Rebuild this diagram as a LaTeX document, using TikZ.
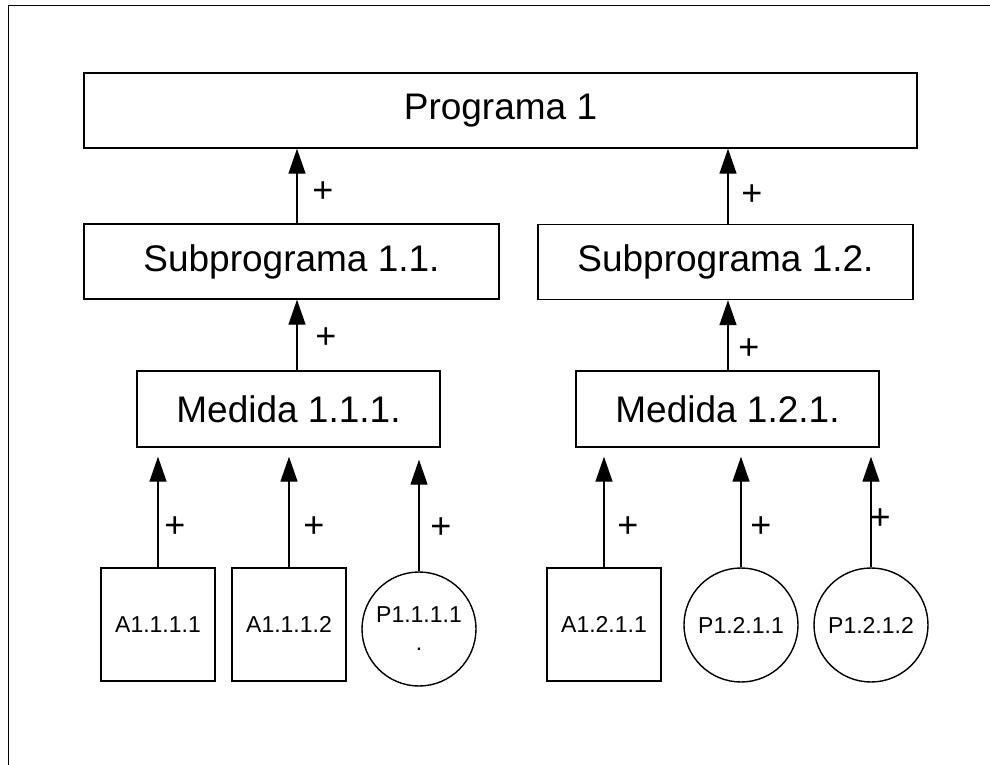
\documentclass[tikz,border=0pt]{standalone}
\usepackage{fontspec}
\setmainfont{Liberation Sans}
\usetikzlibrary{arrows.meta}

\tikzset{
  caja/.style={draw, line width=1.4pt, inner sep=0pt, minimum height=75pt, font=\fontsize{37}{44}\selectfont},
  cajita/.style={draw, line width=1.4pt, inner sep=0pt, minimum width=114pt, minimum height=113pt, font=\fontsize{23}{28}\selectfont},
  circulo/.style={draw, circle, line width=1.4pt, inner sep=0pt, minimum size=114pt, align=center, font=\fontsize{23}{28}\selectfont},
  flecha/.style={line width=1.4pt, -{Triangle[length=25pt,width=17pt]}},
  signo/.style={inner sep=0pt, font=\fontsize{36}{40}\selectfont}
}

\begin{document}
\begin{tikzpicture}[x=1pt,y=-1pt]
\useasboundingbox (0,0) rectangle (990,765);
%Rahmen (nur links und oben sichtbar)
\draw[line width=1.4pt] (8.5,765) -- (8.5,5.5) -- (990,5.5);

\node[caja, minimum width=833pt] (prog) at (500.5,110.5) {Programa 1};
\node[caja, minimum width=415pt] (sub11) at (291.5,261.5) {Subprograma 1.1.};
\node[caja, minimum width=375pt] (sub12) at (725.5,262) {Subprograma 1.2.};
\node[caja, minimum width=303pt, minimum height=76pt] (med111) at (288.5,409) {Medida 1.1.1.};
\node[caja, minimum width=303pt, minimum height=76pt] (med121) at (727.5,409) {Medida 1.2.1.};

\node[cajita] (a1111) at (158,624.5) {A1.1.1.1};
\node[cajita] (a1112) at (289,624.5) {A1.1.1.2};
\node[circulo] (p1111) at (419,629) {P1.1.1.1\\.};
\node[cajita] (a1211) at (604,624.5) {A1.2.1.1};
\node[circulo] (p1211) at (741,625) {P1.2.1.1};
\node[circulo] (p1212) at (871,625) {P1.2.1.2};

%Spalten der oberen Pfeile
\coordinate (s1) at (297,0);
\coordinate (s2) at (728,0);

\draw[flecha] (s1 |- sub11.north) -- (s1 |- prog.south) node[signo, pos=.42, xshift=26pt] {+};
\draw[flecha] (s2 |- sub12.north) -- (s2 |- prog.south) node[signo, pos=.38, xshift=24pt] {+};
\draw[flecha] (s1 |- med111.north) -- (s1 |- sub11.south) node[signo, pos=.46, xshift=29pt] {+};
\draw[flecha] (s2 |- med121.north) -- (s2 |- sub12.south) node[signo, pos=.30, xshift=21pt] {+};

\draw[flecha, shorten >=9pt] (a1111.north) -- (a1111.north |- med111.south) node[signo, pos=.34, xshift=17pt] {+};
\draw[flecha, shorten >=9pt] (a1112.north) -- (a1112.north |- med111.south) node[signo, pos=.34, xshift=25pt] {+};
\draw[flecha, shorten >=12pt] (p1111.north) -- (p1111.north |- med111.south) node[signo, pos=.35, xshift=22pt] {+};
\draw[flecha, shorten >=9pt] (a1211.north) -- (a1211.north |- med121.south) node[signo, pos=.34, xshift=24pt] {+};
\draw[flecha, shorten >=9pt] (p1211.north) -- (p1211.north |- med121.south) node[signo, pos=.34, xshift=20pt] {+};
\draw[flecha, shorten >=9pt] (p1212.north) -- (p1212.north |- med121.south) node[signo, pos=.40, xshift=9pt] {+};
\end{tikzpicture}
\end{document}
